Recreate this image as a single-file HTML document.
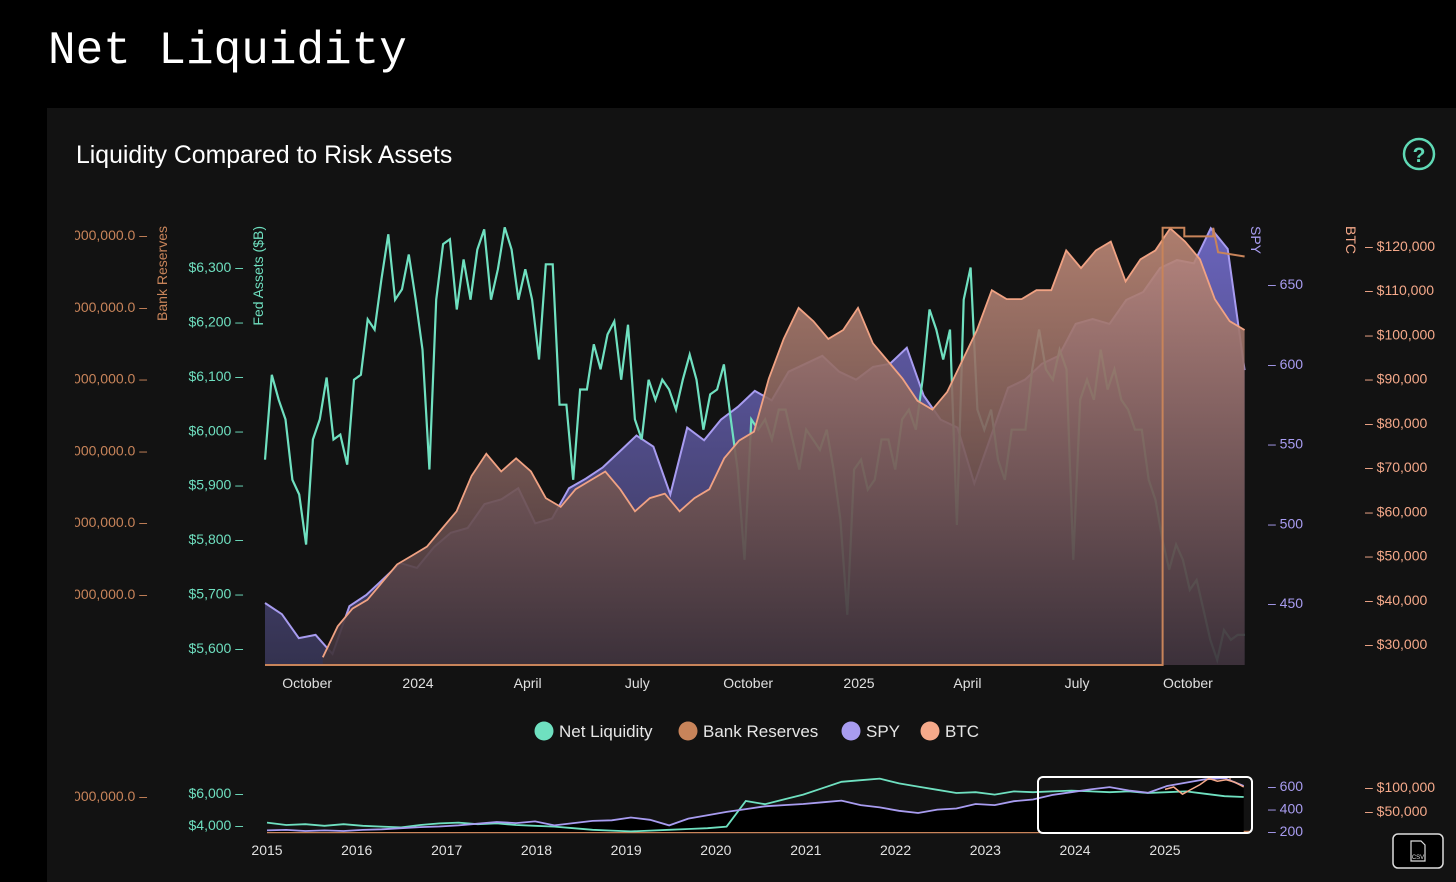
<!DOCTYPE html>
<html><head><meta charset="utf-8"><style>
html,body{margin:0;padding:0;background:#000;width:1456px;height:882px;overflow:hidden;font-family:"Liberation Sans",sans-serif}
svg{position:absolute;left:0;top:0}
</style></head><body>
<svg id="c" width="1456" height="882">
<defs>
<linearGradient id="gSpy" gradientUnits="userSpaceOnUse" x1="0" y1="225" x2="0" y2="665"><stop offset="0" stop-color="#6a64bc"/><stop offset="1" stop-color="#34324f"/></linearGradient>
<linearGradient id="gBtc" gradientUnits="userSpaceOnUse" x1="0" y1="225" x2="0" y2="665"><stop offset="0" stop-color="#c08a78" stop-opacity="0.9"/><stop offset="1" stop-color="#3c3038" stop-opacity="0.92"/></linearGradient>
<clipPath id="clipL"><rect x="75" y="200" width="100" height="620"/></clipPath>
<clipPath id="clipM"><rect x="75" y="770" width="100" height="60"/></clipPath>
</defs>
<text x="48" y="63" fill="#fff" font-family="Liberation Mono,monospace" font-size="46">Net Liquidity</text>
<rect x="47" y="108" width="1409" height="774" fill="#121212"/>
<text x="76" y="163" fill="#fff" font-size="24.8">Liquidity Compared to Risk Assets</text>
<g><circle cx="1419" cy="154" r="15" fill="none" stroke="#5fd9b5" stroke-width="2.5"/><text x="1419" y="162" text-anchor="middle" fill="#5fd9b5" font-size="21" font-weight="bold">?</text></g>
<g id="main"></g>
<g id="mini"></g>
<g><rect x="1393" y="834" width="50" height="34" rx="5" fill="#000" stroke="#ddd" stroke-width="1.5"/><path d="M1411 841h10l4 4v16h-14z" fill="none" stroke="#ddd" stroke-width="1.2"/><text x="1418" y="859" text-anchor="middle" fill="#ddd" font-size="6">CSV</text></g>
</svg>
<script>
// ---------- data (main chart) ----------
const netLiqStart = "2023-08-27", netLiqEnd = "2025-11-17";
const netLiqValues = [5946,6102,6056,6020,5909,5882,5790,5983,6020,6097,5983,5992,5937,6093,6102,6204,6185,6277,6360,6240,6259,6323,6240,6148,5928,6240,6342,6351,6222,6314,6240,6332,6369,6240,6296,6373,6332,6240,6296,6240,6130,6305,6305,6047,6047,5909,6075,6075,6158,6112,6176,6200,6093,6194,6020,5983,6093,6056,6093,6075,6038,6093,6139,6093,6001,6066,6075,6121,6020,5928,5762,6020,6001,6020,5983,6038,6038,5983,5928,6001,5983,5964,6001,5928,5836,5661,5928,5946,5891,5909,5983,5983,5928,6020,6038,6001,6093,6222,6185,6130,6185,5826,6240,6299,6038,6001,6038,5946,5909,6001,6001,6001,6112,6185,6112,6093,6148,6112,5762,6056,6093,6056,6148,6075,6112,6056,6038,6001,6001,5909,5872,5799,5744,5790,5762,5707,5725,5670,5615,5578,5633,5615,5624,5624];
const spyStart = "2023-08-27", spyEnd = "2025-11-17";
const spyValues = [450,443,428,430,418,448,455,465,475,472,485,494,497,512,515,522,500,503,522,528,535,545,555,548,518,560,552,565,573,583,577,595,600,605,595,590,598,600,610,580,565,560,525,555,585,590,600,605,625,628,625,640,645,660,665,663,685,672,596];
const btcStart = "2023-10-14", btcEnd = "2025-11-17";
const btcValues = [27,34,38,40,44,48,50,52,56,60,68,73,69,72,69,63,61,65,67,69,65,60,63,64,60,63,65,72,76,78,90,99,106,103,99,101,106,98,94,90,85,83,87,94,101,110,108,108,110,110,119,115,119,121,112,117,119,124,121,117,108,103,101];
const reservesDates = ["2023-08-27","2025-09-10","2025-09-10","2025-09-28","2025-09-28","2025-10-22","2025-10-22","2025-10-26","2025-11-17"];
const reservesValues = [0,0,3050000,3050000,2990000,2990000,3050000,2880000,2850000];
const xTickLabels = ["October","2024","April","July","October","2025","April","July","October"];
const xTickDates = ["2023-10-01","2024-01-01","2024-04-01","2024-07-01","2024-10-01","2025-01-01","2025-04-01","2025-07-01","2025-10-01"];
const fedTicks = [5600,5700,5800,5900,6000,6100,6200,6300];
const resTicks = [500000,1000000,1500000,2000000,2500000,3000000];
const spyTicks = [450,500,550,600,650];
const btcTicks = [30000,40000,50000,60000,70000,80000,90000,100000,110000,120000];
// ---------- data (mini chart, quarterly) ----------
const miniStart = "2015-01-01", miniEnd = "2025-11-17";
const miniNetLiq = [4150,4000,4050,3950,4050,3950,3900,3850,4000,4100,4150,4050,4100,4000,3950,3900,3800,3700,3650,3600,3650,3700,3750,3800,3900,5500,5300,5600,5900,6300,6700,6800,6900,6600,6400,6200,6000,6050,5900,6100,6050,6100,6150,6100,6050,6100,6000,6050,6100,5950,5800,5750];
const miniSpy = [205,210,200,205,200,210,215,225,235,240,250,265,280,270,285,250,270,290,295,320,300,250,310,340,370,395,420,430,440,455,470,430,410,380,360,390,400,440,430,465,480,520,545,570,590,560,540,600,630,660,670,600];
const miniBtcStart = "2025-01-01";
const miniBtc = [95,100,85,95,105,118,112,115,110,100];
const miniYears = ["2015","2016","2017","2018","2019","2020","2021","2022","2023","2024","2025"];
const miniFedTicks = [4000,6000];
const miniSpyTicks = [200,400,600];
const miniBtcTicks = [50000,100000];

// ---------- scales ----------
const NS="http://www.w3.org/2000/svg";
const T=s=>new Date(s+"T00:00:00Z").getTime();
const x=d=>418+(d-T("2024-01-01"))/(T("2025-01-01")-T("2024-01-01"))*441;
const yFed=v=>648-(v-5600)*(381/700);
const yRes=v=>235+(3000000-v)*(359/2500000);
const ySpy=v=>603-(v-450)*(319/200);
const yBtc=v=>644-(v-30000)*(398/90000);
const xm=d=>267+(d-T("2015-01-01"))/(T("2025-01-01")-T("2015-01-01"))*898;
const ymFed=v=>825-(v-4000)*(32/2000);
const ymSpy=v=>831-(v-200)*(45/400);
const ymBtc=v=>811-(v-50000)*(24/50000);
function mk(tag,attrs,parent){const e=document.createElementNS(NS,tag);for(const k in attrs)e.setAttribute(k,attrs[k]);parent.appendChild(e);return e;}
function dates(start,end,n){const a=T(start),b=T(end);const r=[];for(let i=0;i<n;i++)r.push(a+(b-a)*i/(n-1));return r;}
function pts(ds,vals,fx,fy){return ds.map((d,i)=>[fx(d),fy(vals[i])]);}
function line(p){return "M"+p.map(q=>q[0].toFixed(1)+","+q[1].toFixed(1)).join("L");}
function area(p,base){return line(p)+"L"+p[p.length-1][0].toFixed(1)+","+base+"L"+p[0][0].toFixed(1)+","+base+"Z";}
function clampY(p,lo,hi){return p.map(q=>[q[0],Math.max(lo,Math.min(hi,q[1]))]);}

const main=document.getElementById("main");
const base=665;
const spyP=clampY(pts(dates(spyStart,spyEnd,spyValues.length),spyValues,x,ySpy),225,base);
let e=mk("path",{d:area(spyP,base),fill:"url(#gSpy)"},main);


e=mk("path",{d:line(spyP),fill:"none",stroke:"#a89cf0","stroke-width":2},main);


const nlP=clampY(pts(dates(netLiqStart,netLiqEnd,netLiqValues.length),netLiqValues,x,yFed),225,base);
e=mk("path",{d:line(nlP),fill:"none",stroke:"#6fe0c0","stroke-width":2.2},main);


const btcP=clampY(pts(dates(btcStart,btcEnd,btcValues.length),btcValues.map(v=>v*1000),x,yBtc),225,base);
e=mk("path",{d:area(btcP,base),fill:"url(#gBtc)"},main);


e=mk("path",{d:line(btcP),fill:"none",stroke:"#f0a283","stroke-width":1.8},main);


const resP=clampY(reservesDates.map((d,i)=>[x(T(d)),yRes(reservesValues[i])]),226,base);
resP[0][1]=base;resP[1][1]=base;
e=mk("path",{d:line(resP),fill:"none",stroke:"#c8845a","stroke-width":2},main);


xTickLabels.forEach((l,i)=>{const xx=x(T(xTickDates[i]));
 const t=mk("text",{x:xx,y:688,fill:"#e0e0e0","font-size":14,"text-anchor":"middle"},main);t.textContent=l;
 
 });
fedTicks.forEach(v=>{const t=mk("text",{x:243,y:yFed(v)+5,fill:"#6fe0c0","font-size":14,"text-anchor":"end"},main);t.textContent="$"+v.toLocaleString("en-US")+" –";
 
 });
const resG=mk("g",{"clip-path":"url(#clipL)"},main);
resTicks.forEach(v=>{const t=mk("text",{x:147,y:yRes(v)+5,fill:"#c8845a","font-size":14,"text-anchor":"end"},resG);t.textContent=(v*1000).toLocaleString("en-US")+".0 –";
 
 });
spyTicks.forEach(v=>{const t=mk("text",{x:1268,y:ySpy(v)+5,fill:"#a89cf0","font-size":14},main);t.textContent="– "+v;
 
 });
btcTicks.forEach(v=>{const t=mk("text",{x:1365,y:yBtc(v)+5,fill:"#f5a98a","font-size":14},main);t.textContent="– $"+v.toLocaleString("en-US");
 
 });
function rot(txt,xx,yy,ang,col,anchor,name){const t=mk("text",{x:0,y:0,fill:col,"font-size":14,"text-anchor":anchor,transform:`translate(${xx},${yy}) rotate(${ang})`},main);t.textContent=txt;}
rot("Fed Assets ($B)",263,226,-90,"#6fe0c0","end","fed-assets-axis-title");
rot("Bank Reserves",167,226,-90,"#c8845a","end","bank-reserves-axis-title");
rot("SPY",1251,226,90,"#a89cf0","start","spy-axis-title");
rot("BTC",1346,226,90,"#f5a98a","start","btc-axis-title");
const legendNames=["Net Liquidity","Bank Reserves","SPY","BTC"];
const legendColors=["#6fe0c0","#c8845a","#a89cf0","#f5a98a"];
const legendX=[544,688,851,930];
legendNames.forEach((n,i)=>{const g=mk("g",{},main);
 mk("circle",{cx:legendX[i],cy:731,r:9.5,fill:legendColors[i]},g);
 const t=mk("text",{x:legendX[i]+15,y:737,fill:"#e6e6e6","font-size":17},g);t.textContent=n;});

// ---------- mini ----------
const mini=document.getElementById("mini");
const mD=dates(miniStart,miniEnd,miniNetLiq.length);
e=mk("line",{x1:267,y1:832,x2:1250,y2:832,stroke:"#c8845a","stroke-width":2.5},mini);


e=mk("line",{x1:1230,y1:832,x2:1230,y2:776,stroke:"#c8845a","stroke-width":1.5},mini);


const mSpyP=pts(mD,miniSpy,xm,ymSpy);
e=mk("path",{d:area(mSpyP,832),fill:"#000"},mini);


e=mk("path",{d:line(pts(mD,miniNetLiq,xm,ymFed)),fill:"none",stroke:"#6fe0c0","stroke-width":1.8},mini);


e=mk("path",{d:line(mSpyP),fill:"none",stroke:"#a89cf0","stroke-width":1.8},mini);


e=mk("path",{d:line(pts(dates(miniBtcStart,miniEnd,miniBtc.length),miniBtc.map(v=>v*1000),xm,ymBtc)),fill:"none",stroke:"#f5a98a","stroke-width":1.5},mini);


e=mk("rect",{x:1038,y:777,width:214,height:56,rx:5,fill:"none",stroke:"#fff","stroke-width":2},mini);


miniYears.forEach((yv,i)=>{const t=mk("text",{x:xm(T(yv+"-01-01")),y:855,fill:"#e0e0e0","font-size":14,"text-anchor":"middle"},mini);t.textContent=yv;
 
 });
miniFedTicks.forEach(v=>{const t=mk("text",{x:243,y:ymFed(v)+5,fill:"#6fe0c0","font-size":14,"text-anchor":"end"},mini);t.textContent="$"+v.toLocaleString("en-US")+" –";
 
 });
miniSpyTicks.forEach(v=>{const t=mk("text",{x:1268,y:ymSpy(v)+5,fill:"#a89cf0","font-size":14},mini);t.textContent="– "+v;
 
 });
miniBtcTicks.forEach(v=>{const t=mk("text",{x:1365,y:ymBtc(v)+5,fill:"#f5a98a","font-size":14},mini);t.textContent="– $"+v.toLocaleString("en-US");
 
 });
const mg=mk("g",{"clip-path":"url(#clipM)"},mini);
e=mk("text",{x:147,y:801,fill:"#c8845a","font-size":14,"text-anchor":"end"},mg);e.textContent="3,000,000,000.0 –";


</script>
</body></html>
